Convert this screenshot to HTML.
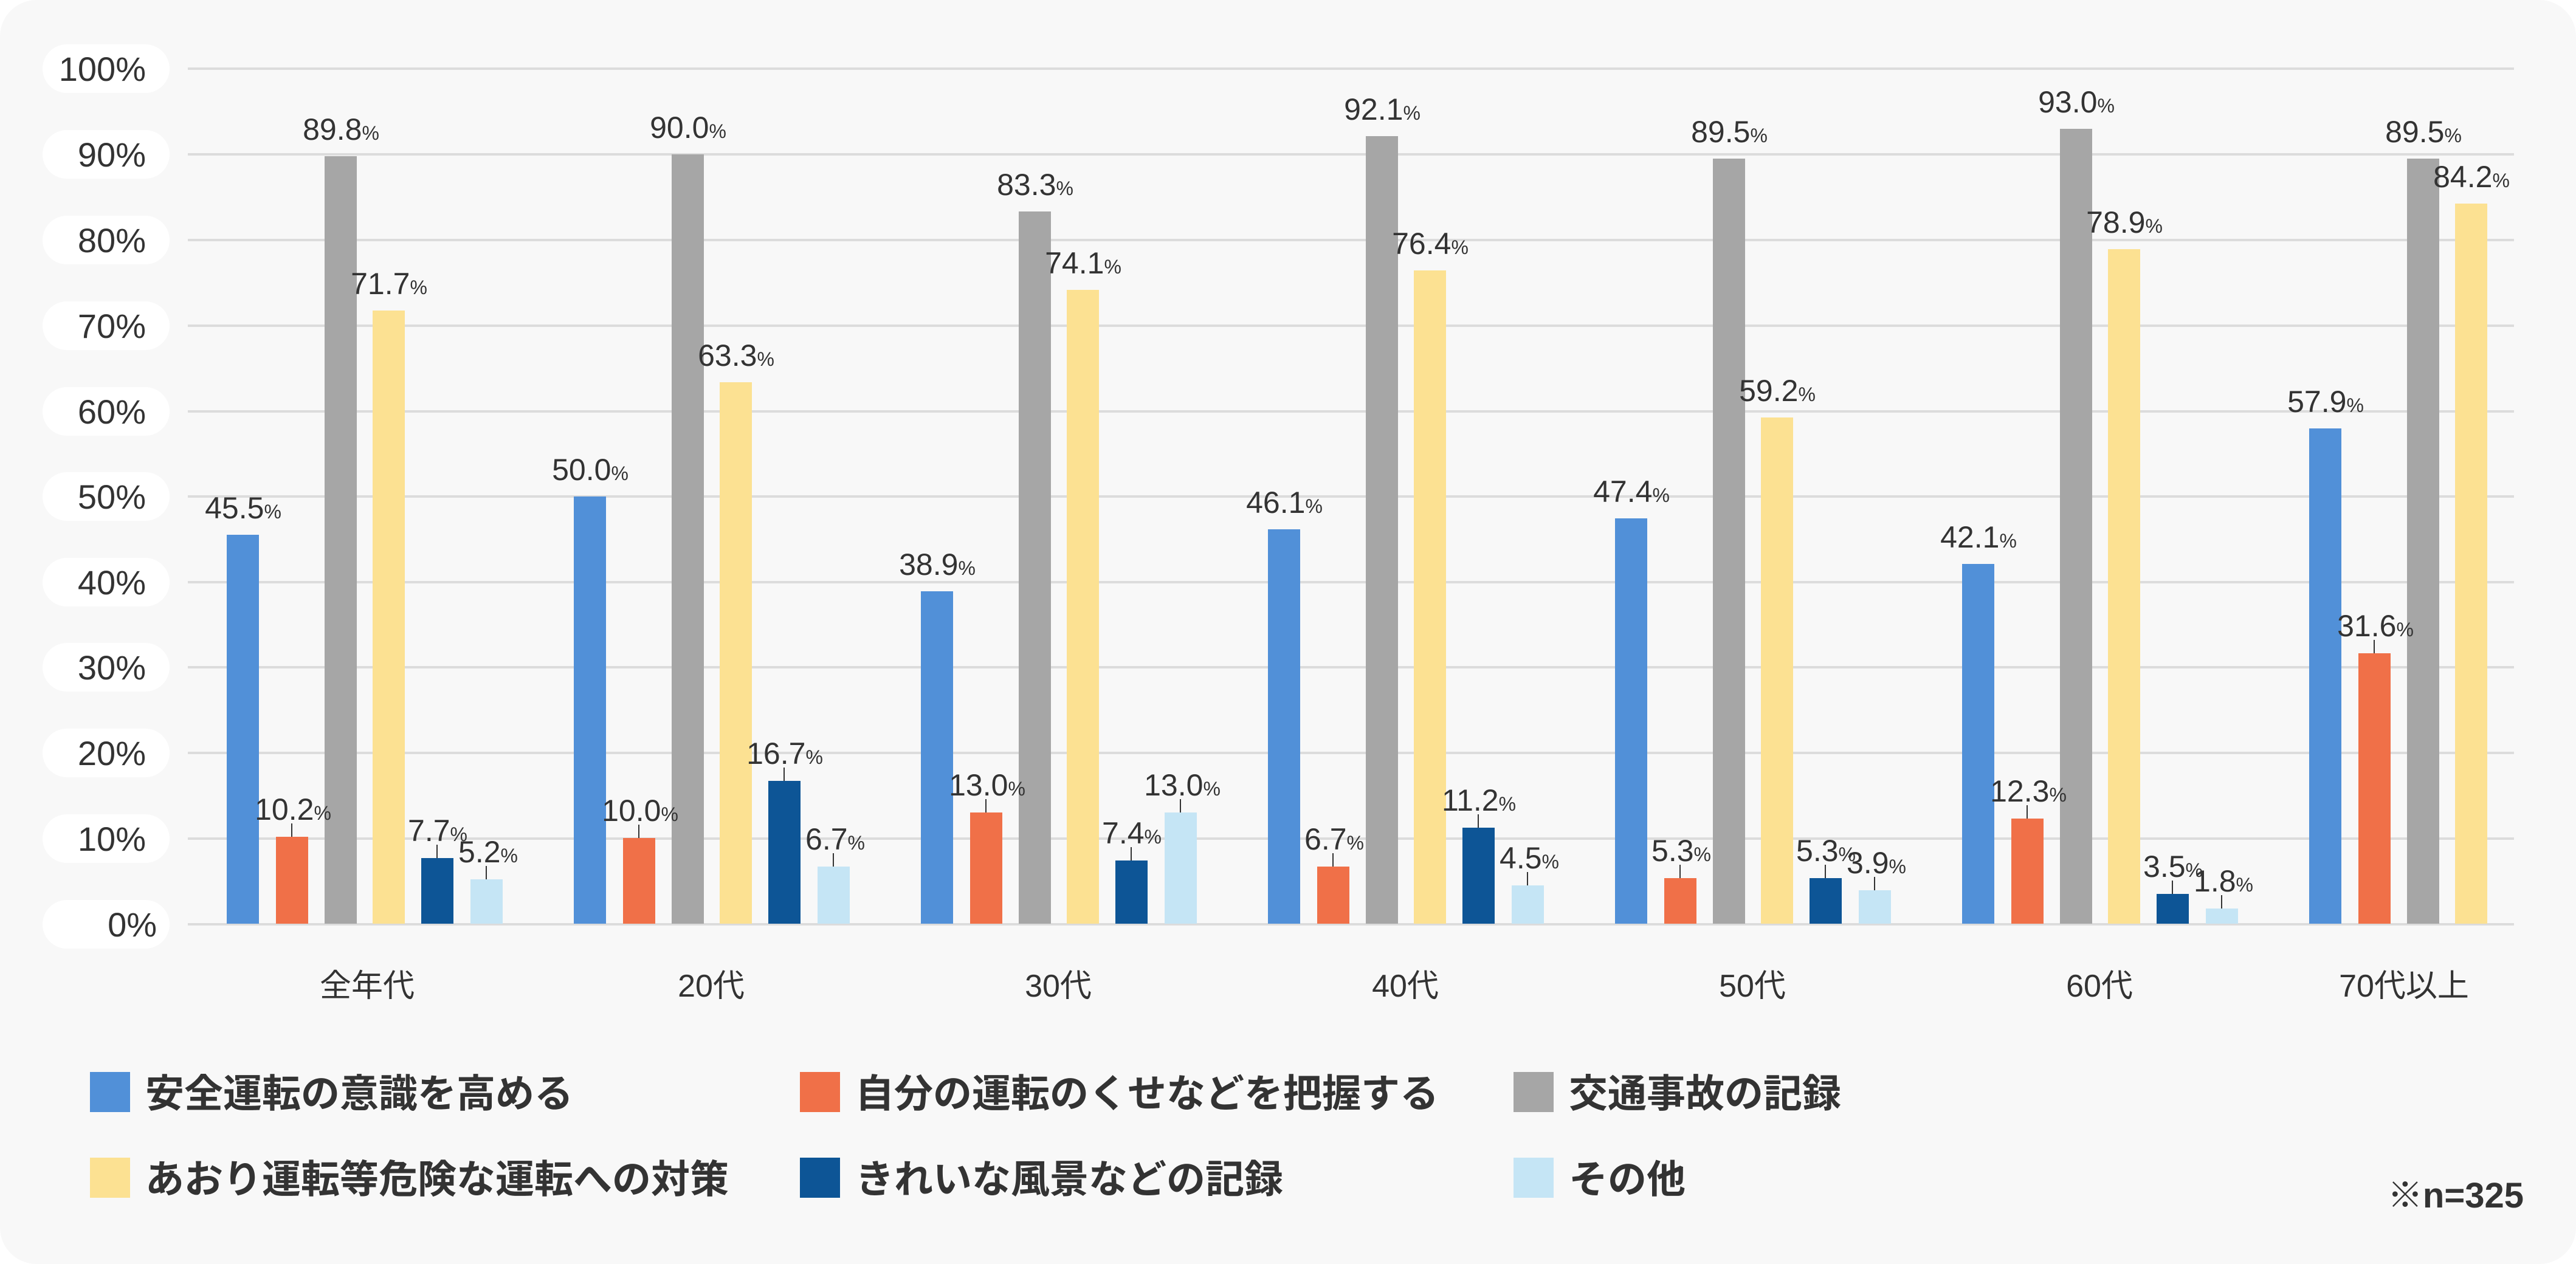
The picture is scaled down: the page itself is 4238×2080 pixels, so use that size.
<!DOCTYPE html>
<html><head><meta charset="utf-8"><style>
html,body{margin:0;padding:0;background:#fff;}
svg{display:block;}
text{font-family:"Liberation Sans","Noto Sans CJK JP",sans-serif;fill:#333;}
.v{font-size:50px;font-weight:500;text-anchor:middle;}
.p{font-size:32px;}
.ax{font-size:56px;text-anchor:end;}
.cat{font-size:52px;text-anchor:middle;}
.lg{font-size:64px;font-weight:bold;}
</style></head><body>
<svg width="4238" height="2080" viewBox="0 0 4238 2080" xmlns="http://www.w3.org/2000/svg">
<rect x="0" y="0" width="4238" height="2080" rx="60" fill="#f8f8f8"/>
<g stroke="#dcdcdc" stroke-width="4">
<line x1="309" x2="4136" y1="113" y2="113"/><line x1="309" x2="4136" y1="254" y2="254"/>
<line x1="309" x2="4136" y1="395" y2="395"/><line x1="309" x2="4136" y1="536" y2="536"/>
<line x1="309" x2="4136" y1="677" y2="677"/><line x1="309" x2="4136" y1="817" y2="817"/>
<line x1="309" x2="4136" y1="958" y2="958"/><line x1="309" x2="4136" y1="1098" y2="1098"/>
<line x1="309" x2="4136" y1="1239" y2="1239"/><line x1="309" x2="4136" y1="1380" y2="1380"/>
<line x1="309" x2="4136" y1="1521" y2="1521"/>
</g>
<g fill="#fff">
<rect x="70" y="73" width="209" height="80" rx="40"/><rect x="70" y="214" width="209" height="80" rx="40"/>
<rect x="70" y="355" width="209" height="80" rx="40"/><rect x="70" y="496" width="209" height="80" rx="40"/>
<rect x="70" y="637" width="209" height="80" rx="40"/><rect x="70" y="777" width="209" height="80" rx="40"/>
<rect x="70" y="918" width="209" height="80" rx="40"/><rect x="70" y="1058" width="209" height="80" rx="40"/>
<rect x="70" y="1199" width="209" height="80" rx="40"/><rect x="70" y="1340" width="209" height="80" rx="40"/>
<rect x="70" y="1481" width="209" height="80" rx="40"/>
</g>
<g class="ax">
<text class="ax" x="240" y="133">100%</text><text class="ax" x="240" y="274">90%</text>
<text class="ax" x="240" y="415">80%</text><text class="ax" x="240" y="556">70%</text>
<text class="ax" x="240" y="697">60%</text><text class="ax" x="240" y="837">50%</text>
<text class="ax" x="240" y="978">40%</text><text class="ax" x="240" y="1118">30%</text>
<text class="ax" x="240" y="1259">20%</text><text class="ax" x="240" y="1400">10%</text>
<text class="ax" x="258" y="1541">0%</text>
</g>
<g>
<rect x="373" y="880" width="53" height="640" fill="#5190d8"/><rect x="454" y="1377" width="53" height="143" fill="#f07048"/><rect x="534" y="257" width="53" height="1263" fill="#a6a6a6"/><rect x="613" y="511" width="53" height="1009" fill="#fce192"/><rect x="693" y="1412" width="53" height="108" fill="#0d5596"/><rect x="774" y="1447" width="53" height="73" fill="#c5e5f5"/>
<rect x="944" y="817" width="53" height="703" fill="#5190d8"/><rect x="1025" y="1379" width="53" height="141" fill="#f07048"/><rect x="1105" y="254" width="53" height="1266" fill="#a6a6a6"/><rect x="1184" y="629" width="53" height="891" fill="#fce192"/><rect x="1264" y="1285" width="53" height="235" fill="#0d5596"/><rect x="1345" y="1426" width="53" height="94" fill="#c5e5f5"/>
<rect x="1515" y="973" width="53" height="547" fill="#5190d8"/><rect x="1596" y="1337" width="53" height="183" fill="#f07048"/><rect x="1676" y="348" width="53" height="1172" fill="#a6a6a6"/><rect x="1755" y="477" width="53" height="1043" fill="#fce192"/><rect x="1835" y="1416" width="53" height="104" fill="#0d5596"/><rect x="1916" y="1337" width="53" height="183" fill="#c5e5f5"/>
<rect x="2086" y="871" width="53" height="649" fill="#5190d8"/><rect x="2167" y="1426" width="53" height="94" fill="#f07048"/><rect x="2247" y="224" width="53" height="1296" fill="#a6a6a6"/><rect x="2326" y="445" width="53" height="1075" fill="#fce192"/><rect x="2406" y="1362" width="53" height="158" fill="#0d5596"/><rect x="2487" y="1457" width="53" height="63" fill="#c5e5f5"/>
<rect x="2657" y="853" width="53" height="667" fill="#5190d8"/><rect x="2738" y="1445" width="53" height="75" fill="#f07048"/><rect x="2818" y="261" width="53" height="1259" fill="#a6a6a6"/><rect x="2897" y="687" width="53" height="833" fill="#fce192"/><rect x="2977" y="1445" width="53" height="75" fill="#0d5596"/><rect x="3058" y="1465" width="53" height="55" fill="#c5e5f5"/>
<rect x="3228" y="928" width="53" height="592" fill="#5190d8"/><rect x="3309" y="1347" width="53" height="173" fill="#f07048"/><rect x="3389" y="212" width="53" height="1308" fill="#a6a6a6"/><rect x="3468" y="410" width="53" height="1110" fill="#fce192"/><rect x="3548" y="1471" width="53" height="49" fill="#0d5596"/><rect x="3629" y="1495" width="53" height="25" fill="#c5e5f5"/>
<rect x="3799" y="705" width="53" height="815" fill="#5190d8"/><rect x="3880" y="1075" width="53" height="445" fill="#f07048"/><rect x="3960" y="261" width="53" height="1259" fill="#a6a6a6"/><rect x="4039" y="335" width="53" height="1185" fill="#fce192"/>
</g>
<g stroke="#333" stroke-width="2">
<line x1="480" x2="480" y1="1355" y2="1377"/><line x1="719" x2="719" y1="1390" y2="1412"/><line x1="800" x2="800" y1="1425" y2="1447"/>
<line x1="1051" x2="1051" y1="1357" y2="1379"/><line x1="1290" x2="1290" y1="1263" y2="1285"/><line x1="1371" x2="1371" y1="1404" y2="1426"/>
<line x1="1622" x2="1622" y1="1315" y2="1337"/><line x1="1861" x2="1861" y1="1394" y2="1416"/><line x1="1942" x2="1942" y1="1315" y2="1337"/>
<line x1="2193" x2="2193" y1="1404" y2="1426"/><line x1="2432" x2="2432" y1="1340" y2="1362"/><line x1="2513" x2="2513" y1="1435" y2="1457"/>
<line x1="2764" x2="2764" y1="1423" y2="1445"/><line x1="3003" x2="3003" y1="1423" y2="1445"/><line x1="3084" x2="3084" y1="1443" y2="1465"/>
<line x1="3335" x2="3335" y1="1325" y2="1347"/><line x1="3574" x2="3574" y1="1449" y2="1471"/><line x1="3655" x2="3655" y1="1473" y2="1495"/>
<line x1="3906" x2="3906" y1="1053" y2="1075"/>
</g>
<g>
<text class="v" x="400" y="853">45.5<tspan class="p">%</tspan></text><text class="v" x="482" y="1349">10.2<tspan class="p">%</tspan></text><text class="v" x="561" y="230">89.8<tspan class="p">%</tspan></text><text class="v" x="640" y="484">71.7<tspan class="p">%</tspan></text><text class="v" x="720" y="1384">7.7<tspan class="p">%</tspan></text><text class="v" x="803" y="1419">5.2<tspan class="p">%</tspan></text>
<text class="v" x="971" y="790">50.0<tspan class="p">%</tspan></text><text class="v" x="1053" y="1351">10.0<tspan class="p">%</tspan></text><text class="v" x="1132" y="227">90.0<tspan class="p">%</tspan></text><text class="v" x="1211" y="602">63.3<tspan class="p">%</tspan></text><text class="v" x="1291" y="1257">16.7<tspan class="p">%</tspan></text><text class="v" x="1374" y="1398">6.7<tspan class="p">%</tspan></text>
<text class="v" x="1542" y="946">38.9<tspan class="p">%</tspan></text><text class="v" x="1624" y="1309">13.0<tspan class="p">%</tspan></text><text class="v" x="1703" y="321">83.3<tspan class="p">%</tspan></text><text class="v" x="1782" y="450">74.1<tspan class="p">%</tspan></text><text class="v" x="1862" y="1388">7.4<tspan class="p">%</tspan></text><text class="v" x="1945" y="1309">13.0<tspan class="p">%</tspan></text>
<text class="v" x="2113" y="844">46.1<tspan class="p">%</tspan></text><text class="v" x="2195" y="1398">6.7<tspan class="p">%</tspan></text><text class="v" x="2274" y="197">92.1<tspan class="p">%</tspan></text><text class="v" x="2353" y="418">76.4<tspan class="p">%</tspan></text><text class="v" x="2433" y="1334">11.2<tspan class="p">%</tspan></text><text class="v" x="2516" y="1429">4.5<tspan class="p">%</tspan></text>
<text class="v" x="2684" y="826">47.4<tspan class="p">%</tspan></text><text class="v" x="2766" y="1417">5.3<tspan class="p">%</tspan></text><text class="v" x="2845" y="234">89.5<tspan class="p">%</tspan></text><text class="v" x="2924" y="660">59.2<tspan class="p">%</tspan></text><text class="v" x="3004" y="1417">5.3<tspan class="p">%</tspan></text><text class="v" x="3087" y="1437">3.9<tspan class="p">%</tspan></text>
<text class="v" x="3255" y="901">42.1<tspan class="p">%</tspan></text><text class="v" x="3337" y="1319">12.3<tspan class="p">%</tspan></text><text class="v" x="3416" y="185">93.0<tspan class="p">%</tspan></text><text class="v" x="3495" y="383">78.9<tspan class="p">%</tspan></text><text class="v" x="3575" y="1443">3.5<tspan class="p">%</tspan></text><text class="v" x="3658" y="1467">1.8<tspan class="p">%</tspan></text>
<text class="v" x="3826" y="678">57.9<tspan class="p">%</tspan></text><text class="v" x="3908" y="1047">31.6<tspan class="p">%</tspan></text><text class="v" x="3987" y="234">89.5<tspan class="p">%</tspan></text><text class="v" x="4066" y="308">84.2<tspan class="p">%</tspan></text>
</g>
<g>
<text class="cat" x="604" y="1640">全年代</text><text class="cat" x="1170" y="1640">20代</text>
<text class="cat" x="1741" y="1640">30代</text><text class="cat" x="2312" y="1640">40代</text>
<text class="cat" x="2883" y="1640">50代</text><text class="cat" x="3454" y="1640">60代</text>
<text class="cat" x="3955" y="1640">70代以上</text>
</g>
<rect x="148" y="1764" width="66" height="66" fill="#5190d8"/><text class="lg" x="239" y="1822">安全運転の意識を高める</text>
<rect x="1316" y="1764" width="66" height="66" fill="#f07048"/><text class="lg" x="1407" y="1822">自分の運転のくせなどを把握する</text>
<rect x="2490" y="1764" width="66" height="66" fill="#a6a6a6"/><text class="lg" x="2581" y="1822">交通事故の記録</text>
<rect x="148" y="1905" width="66" height="66" fill="#fce192"/><text class="lg" x="239" y="1963">あおり運転等危険な運転への対策</text>
<rect x="1316" y="1905" width="66" height="66" fill="#0d5596"/><text class="lg" x="1407" y="1963">きれいな風景などの記録</text>
<rect x="2490" y="1905" width="66" height="66" fill="#c5e5f5"/><text class="lg" x="2581" y="1963">その他</text>
<text x="4152" y="1987" style="font-size:58px;font-weight:bold;text-anchor:end">※n=325</text>
</svg>
</body></html>
